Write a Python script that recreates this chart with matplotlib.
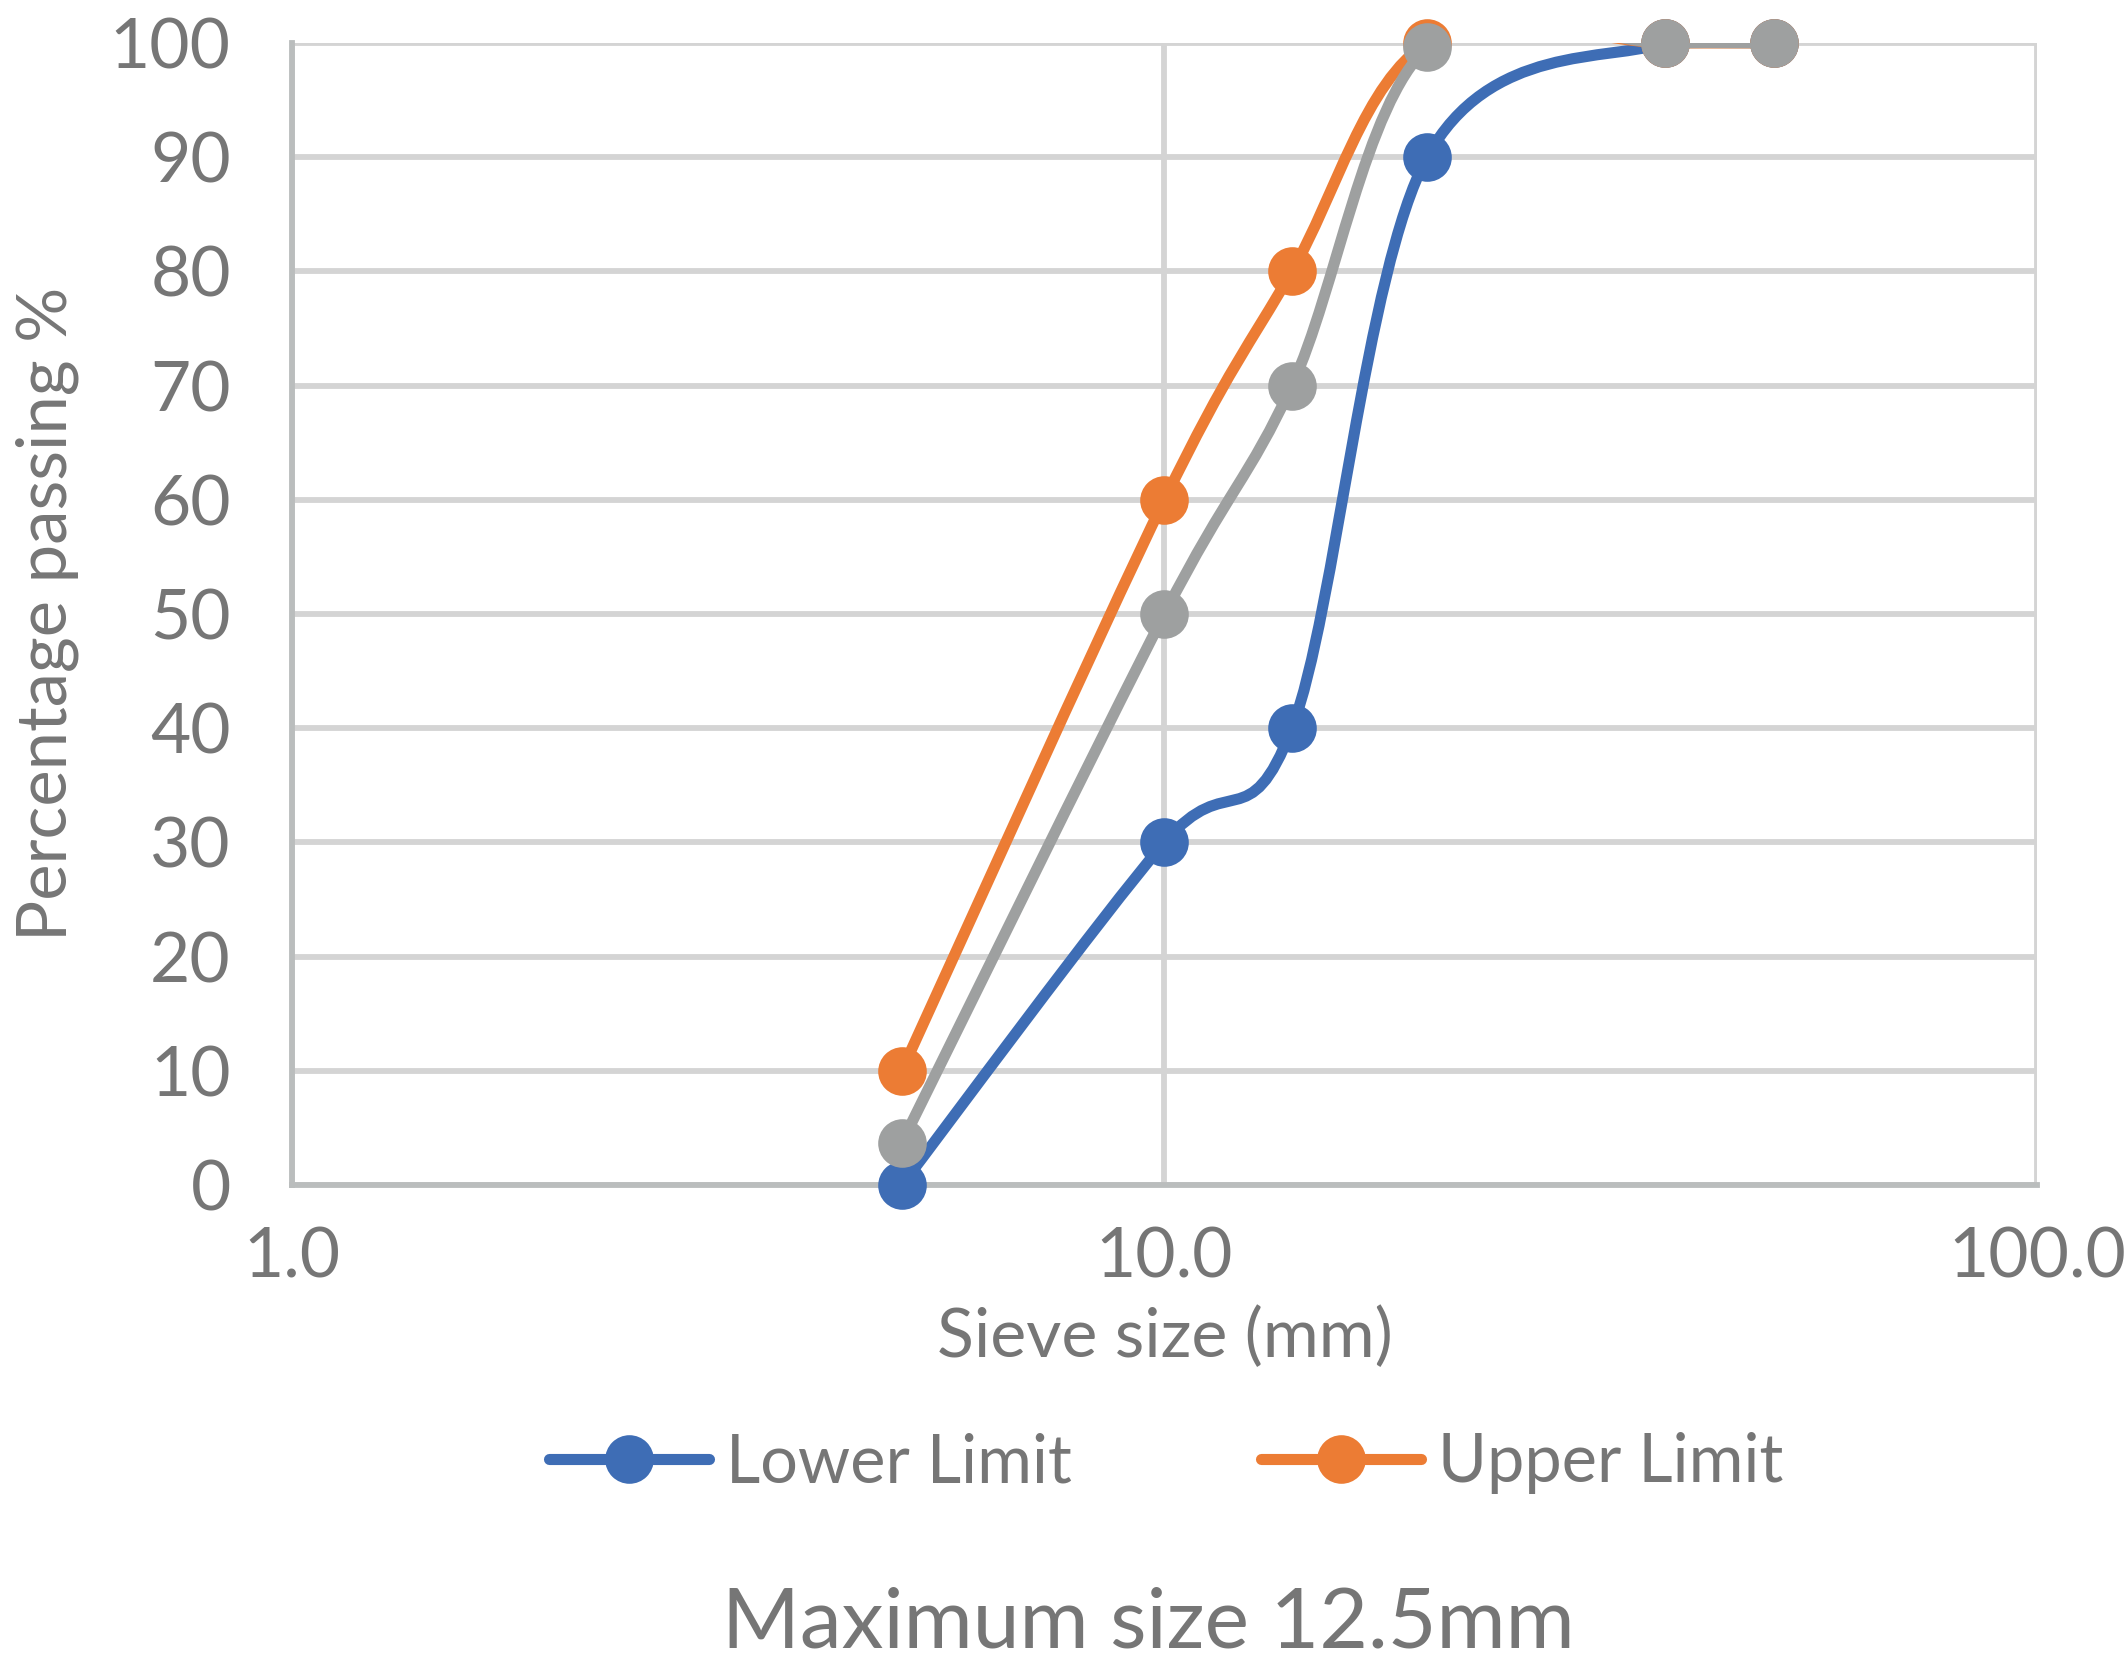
import numpy as np
import matplotlib.pyplot as plt
from matplotlib.path import Path
from matplotlib.patches import PathPatch
from matplotlib.lines import Line2D
from matplotlib.ticker import FixedLocator, FuncFormatter, NullLocator

# sieve sizes (mm) and percentage passing
sieve_mm = [5.0, 10.0, 14.0, 20.0, 37.5, 50.0]
lower_limit = [0, 30, 40, 90, 100, 100]
upper_limit = [10, 60, 80, 100, 100, 100]
sample = [3.7, 50, 70, 99.6, 100, 100]

series_names = ["Lower Limit", "Upper Limit", None]
series_colors = ["#3E6DB5", "#EC7C34", "#9EA0A0"]
y_ticks = list(range(0, 101, 10))
x_ticks = [1.0, 10.0, 100.0]

TEXT = "#767676"
plt.rcParams['font.family'] = ['Lato', 'DejaVu Sans']


def smooth_path(xs, ys):
    """Excel-style smoothed line: Catmull-Rom segments as cubic Beziers in (log x, y)."""
    u = np.log10(np.asarray(xs, float))
    v = np.asarray(ys, float)
    n = len(u)
    verts = [(xs[0], ys[0])]
    codes = [Path.MOVETO]
    for i in range(n - 1):
        i0, i3 = max(i - 1, 0), min(i + 2, n - 1)
        c1 = (u[i] + (u[i + 1] - u[i0]) / 6, v[i] + (v[i + 1] - v[i0]) / 6)
        c2 = (u[i + 1] - (u[i3] - u[i]) / 6, v[i + 1] - (v[i3] - v[i]) / 6)
        verts += [(10 ** c1[0], c1[1]), (10 ** c2[0], c2[1]), (xs[i + 1], ys[i + 1])]
        codes += [Path.CURVE4] * 3
    return Path(verts, codes)


def plot_chart():
    fig = plt.figure(figsize=(21.28, 16.77), dpi=100)
    ax = fig.add_axes([0.1372, 0.2934, 0.8200, 0.6810])

    ax.set_xscale('log')
    ax.set_xlim(1, 100)
    ax.set_ylim(0, 100)

    lw, ms = 8, 35
    for ys, color in zip([lower_limit, upper_limit, sample], series_colors):
        ax.add_patch(PathPatch(smooth_path(sieve_mm, ys), fill=False, edgecolor=color,
                               lw=lw, capstyle='round', joinstyle='round', zorder=3))
        ax.plot(sieve_mm, ys, 'o', color=color, ms=ms, mec='none', zorder=3, clip_on=False)

    # grid and axes styling
    ax.xaxis.set_major_locator(FixedLocator(x_ticks))
    ax.xaxis.set_minor_locator(NullLocator())
    ax.xaxis.set_major_formatter(FuncFormatter(lambda v, p: f"{v:.1f}"))
    ax.set_yticks(y_ticks)
    ax.grid(True, color="#D4D4D4", lw=4.2, zorder=0)
    ax.set_axisbelow(True)
    for side in ['top', 'right']:
        ax.spines[side].set_visible(False)
    for side in ['left', 'bottom']:
        ax.spines[side].set_color("#BABDBD")
        ax.spines[side].set_linewidth(4.2)
    ax.tick_params(length=0, labelsize=50, labelcolor=TEXT)
    ax.tick_params(axis='x', pad=30)
    ax.tick_params(axis='y', pad=44)

    ax.set_xlabel("Sieve size (mm)", fontsize=49, color=TEXT)
    ax.xaxis.set_label_coords(0.5, -0.1506)
    ax.xaxis.label.set_va('baseline')
    ax.set_ylabel("Percentage passing %", fontsize=49.5, color=TEXT)
    ax.yaxis.set_label_coords(-0.140, 0.5)
    ax.yaxis.label.set_va('center')

    handles = [Line2D([], [], color=c, lw=lw, marker='o', ms=ms, mec='none',
                      solid_capstyle='round', label=name)
               for name, c in zip(series_names, series_colors) if name]
    leg = fig.legend(handles=handles, loc='center', bbox_to_anchor=(0.548, 0.1276),
                     ncol=2, frameon=False, fontsize=48, handlelength=2.4,
                     handletextpad=0.25, columnspacing=2.85)
    for t in leg.get_texts():
        t.set_color(TEXT)

    fig.text(0.5395, 0.0173, "Maximum size 12.5mm", fontsize=60.5, color=TEXT,
             ha='center', va='baseline')

    fig.savefig("out.png", dpi=100)


if __name__ == "__main__":
    plot_chart()
